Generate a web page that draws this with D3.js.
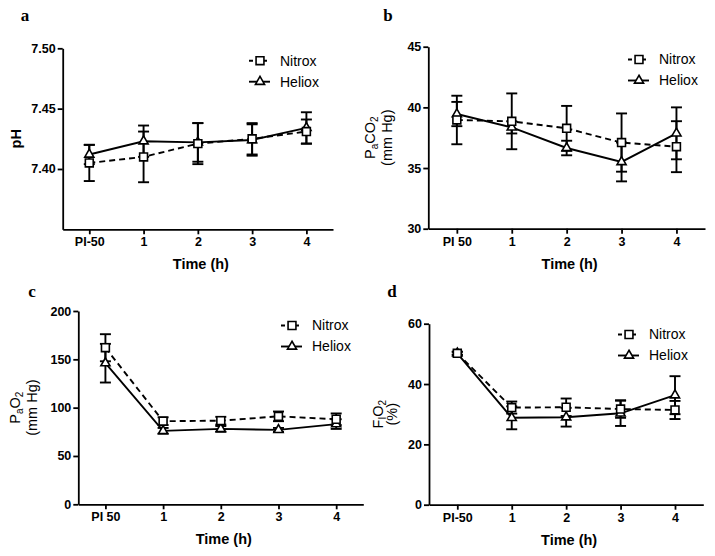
<!DOCTYPE html>
<html><head><meta charset="utf-8">
<script src="https://cdn.jsdelivr.net/npm/d3@7"></script>
<style>
body{margin:0;background:#fff;}
svg{display:block;}
text{font-family:"Liberation Sans",Arial,sans-serif;fill:#000;}
</style></head>
<body>
<script>
// ---- data ----
const catsA = ["PI-50","1","2","3","4"];
const catsB = ["PI 50","1","2","3","4"];
const catsC = ["PI 50","1","2","3","4"];
const catsD = ["PI-50","1","2","3","4"];
const seriesNames = ["Nitrox","Heliox"];

const phNitrox = [7.405, 7.410, 7.421, 7.425, 7.431];
const phNitroxErr = [0.015, 0.021, 0.017, 0.013, 0.010];
const phHeliox = [7.412, 7.423, 7.422, 7.424, 7.434];
const phHelioxErr = [0.008, 0.013, 0.016, 0.013, 0.013];
const phTicks = [7.40, 7.45, 7.50];

const paco2Nitrox = [38.96, 38.85, 38.27, 37.1, 36.76];
const paco2NitroxErr = [2.0, 2.3, 1.85, 2.4, 2.1];
const paco2Heliox = [39.45, 38.35, 36.65, 35.5, 37.86];
const paco2HelioxErr = [1.0, 0.5, 0.6, 1.6, 2.14];
const paco2Ticks = [30, 35, 40, 45];

const pao2Nitrox = [162, 86, 86.5, 91, 88];
const pao2NitroxErr = [14, 4, 4, 5, 6];
const pao2Heliox = [146, 76, 78, 77, 83];
const pao2HelioxErr = [20, 3, 3, 2, 5];
const pao2Ticks = [0, 50, 100, 150, 200];

const fio2Nitrox = [50.2, 32.2, 32.3, 31.7, 31.4];
const fio2NitroxErr = [0.5, 2.0, 2.9, 2.9, 3.0];
const fio2Heliox = [50.2, 28.8, 29.0, 30.3, 36.3];
const fio2HelioxErr = [0.5, 3.8, 3.1, 4.2, 6.3];
const fio2Ticks = [0, 20, 40, 60];

// ---- layout ----
const W = 715, H = 556;
const svg = d3.select("body").append("svg").attr("width", W).attr("height", H);

const panels = [
  {letter:"a", lx:25, ly:15, cats:catsA, ydom:[7.35,7.50], ticks:phTicks, fmt:d3.format(".2f"),
   x0:62.7, x1:333, yTop:48.3, yBot:229.3, pad:0.49,
   n:phNitrox, ne:phNitroxErr, h:phHeliox, he:phHelioxErr,
   ylab:[{x:16, bold:true, parts:[["pH",0]]}], legX:249, legY:60.7},
  {letter:"b", lx:388, ly:15, cats:catsB, ydom:[30,45], ticks:paco2Ticks, fmt:d3.format("d"),
   x0:428.3, x1:705, yTop:46.7, yBot:228.7, pad:0.52,
   n:paco2Nitrox, ne:paco2NitroxErr, h:paco2Heliox, he:paco2HelioxErr,
   ylab:[{x:370, parts:[["P",0],["a",1],["CO",0],["2",1]]},{x:387, parts:[["(mm Hg)",0]]}], legX:628, legY:59.5},
  {letter:"c", lx:32, ly:291, cats:catsC, ydom:[0,200], ticks:pao2Ticks, fmt:d3.format("d"),
   x0:78.3, x1:363.3, yTop:311, yBot:504.3, pad:0.47,
   n:pao2Nitrox, ne:pao2NitroxErr, h:pao2Heliox, he:pao2HelioxErr,
   ylab:[{x:15, parts:[["P",0],["a",1],["O",0],["2",1]]},{x:32, parts:[["(mm Hg)",0]]}], legX:281, legY:325.5},
  {letter:"d", lx:392, ly:291, cats:catsD, ydom:[0,60], ticks:fio2Ticks, fmt:d3.format("d"),
   x0:429, x1:703.3, yTop:323.7, yBot:504.7, pad:0.52,
   n:fio2Nitrox, ne:fio2NitroxErr, h:fio2Heliox, he:fio2HelioxErr,
   ylab:[{x:378, parts:[["F",0],["I",1],["O",0],["2",1]]},{x:392, parts:[["(%)",0]]}], legX:618, legY:334.5}
];

const sqSym = d3.symbol().type(d3.symbolSquare).size(62);
const triSym = d3.symbol().type(d3.symbolTriangle).size(36);

panels.forEach(p => {
  const g = svg.append("g");
  const x = d3.scalePoint().domain(p.cats).range([p.x0, p.x1]).padding(p.pad);
  const y = d3.scaleLinear().domain(p.ydom).range([p.yBot, p.yTop]);

  // panel letter
  g.append("text").attr("x", p.lx).attr("y", p.ly).attr("dy","0.35em")
    .attr("text-anchor","middle").style("font-family","'Liberation Serif','Times New Roman',serif")
    .style("font-weight","bold").style("font-size","17px").text(p.letter);

  // axes
  const ya = g.append("g").attr("transform", `translate(${p.x0},0)`)
    .call(d3.axisLeft(y).tickValues(p.ticks).tickFormat(p.fmt).tickSize(5).tickSizeOuter(0).tickPadding(2));
  const xa = g.append("g").attr("transform", `translate(0,${p.yBot})`)
    .call(d3.axisBottom(x).tickSize(5).tickSizeOuter(0).tickPadding(3));
  [ya, xa].forEach(a => {
    a.select(".domain").attr("stroke","#000").attr("stroke-width",1.8);
    a.selectAll(".tick line").attr("stroke","#000").attr("stroke-width",1.8);
    a.selectAll(".tick text").style("font-family","'Liberation Sans',Arial,sans-serif")
      .style("font-weight","bold").style("font-size","12.5px").attr("fill","#000");
  });
  // x title
  g.append("text").attr("x", (p.x0 + p.x1)/2 + 3).attr("y", p.yBot + 35).attr("dy","0.35em")
    .attr("text-anchor","middle").style("font-weight","bold").style("font-size","14.5px").text("Time (h)");

  // y labels
  const yc = (p.yTop + p.yBot)/2;
  p.ylab.forEach(l => {
    const t = g.append("text").attr("transform", `translate(${l.x},${yc}) rotate(-90)`)
      .attr("text-anchor","middle").attr("dy","0.35em")
      .style("font-size","14.5px").style("font-weight", l.bold ? "bold" : "normal");
    l.parts.forEach(([s, sub]) => {
      const ts = t.append("tspan").text(s);
      if (sub) ts.attr("baseline-shift","-25%").style("font-size","10px");
    });
  });

  const line = d3.line().x((d,i)=>x(p.cats[i])).y(d=>y(d));

  const series = [
    {vals:p.h, err:p.he, dash:null, sym:triSym},
    {vals:p.n, err:p.ne, dash:"6,4", sym:sqSym}
  ];
  series.forEach(s => {
    g.append("path").datum(s.vals).attr("d", line).attr("fill","none")
      .attr("stroke","#000").attr("stroke-width",1.9).attr("stroke-dasharray", s.dash);
  });
  series.forEach(s => {
    const eg = g.append("g").attr("stroke","#000").attr("stroke-width",1.9);
    s.vals.forEach((v,i) => {
      const cx = x(p.cats[i]);
      const lo = y(v - s.err[i]), hi = y(v + s.err[i]);
      eg.append("line").attr("x1",cx).attr("x2",cx).attr("y1",lo).attr("y2",hi);
      eg.append("line").attr("x1",cx-5.5).attr("x2",cx+5.5).attr("y1",lo).attr("y2",lo);
      eg.append("line").attr("x1",cx-5.5).attr("x2",cx+5.5).attr("y1",hi).attr("y2",hi);
    });
  });
  series.forEach(s => {
    g.append("g").selectAll("path").data(s.vals).join("path")
      .attr("transform",(d,i)=>`translate(${x(p.cats[i])},${y(d)})`)
      .attr("d", s.sym).attr("fill","#fff").attr("stroke","#000").attr("stroke-width",1.6);
  });

  // legend
  const leg = [
    {name:seriesNames[0], dash:"4,3", sym:sqSym, dy:0},
    {name:seriesNames[1], dash:null, sym:triSym, dy:21}
  ];
  leg.forEach(l => {
    const ly = p.legY + l.dy;
    g.append("line").attr("x1",p.legX).attr("x2",p.legX+21).attr("y1",ly).attr("y2",ly)
      .attr("stroke","#000").attr("stroke-width",1.9).attr("stroke-dasharray", l.dash);
    g.append("path").attr("transform",`translate(${p.legX+11},${ly})`).attr("d", l.sym)
      .attr("fill","#fff").attr("stroke","#000").attr("stroke-width",1.6);
    g.append("text").attr("x", p.legX+31).attr("y", ly).attr("dy","0.35em")
      .style("font-size","14px").text(l.name);
  });
});
</script>
</body></html>
